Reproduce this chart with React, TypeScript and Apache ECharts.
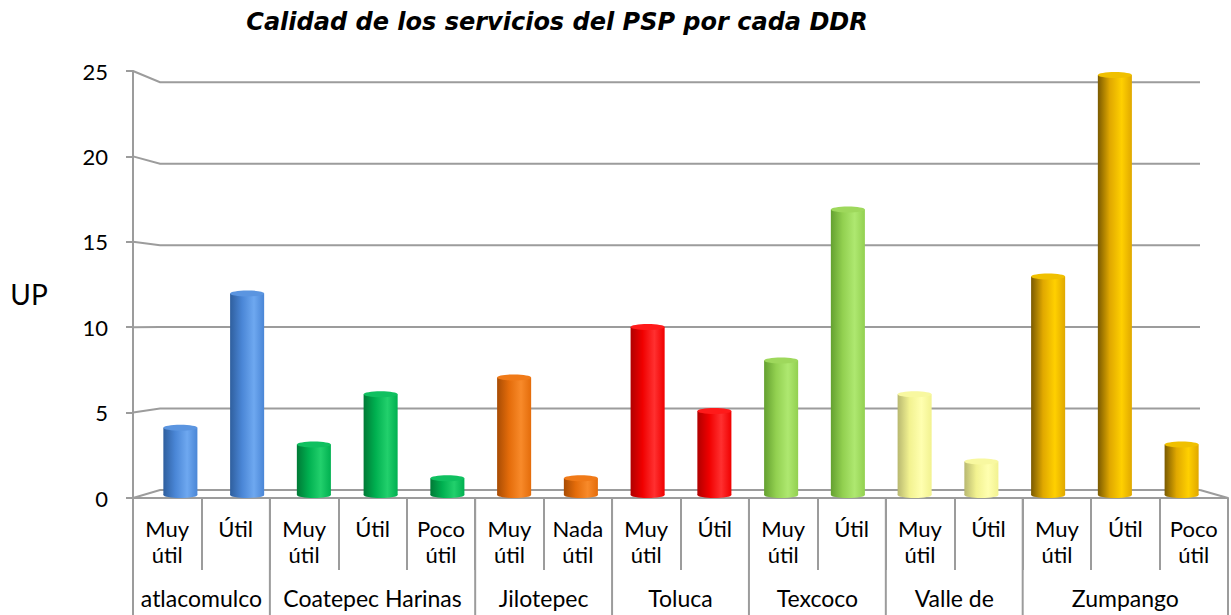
import React, { useEffect, useRef } from "react";
import * as echarts from "echarts";

const title = "Calidad de los servicios del PSP por cada DDR";
const yAxisName = "UP";
const groups = ["atlacomulco", "Coatepec Harinas", "Jilotepec", "Toluca", "Texcoco", "Valle de", "Zumpango"];
const groupSizes = [2, 3, 2, 2, 2, 2, 3];
const subcats = [
  "Muy\nútil", "Útil",
  "Muy\nútil", "Útil", "Poco\nútil",
  "Muy\nútil", "Nada\nútil",
  "Muy\nútil", "Útil",
  "Muy\nútil", "Útil",
  "Muy\nútil", "Útil",
  "Muy\nútil", "Útil", "Poco\nútil",
];
const values = [4, 12, 3, 6, 1, 7, 1, 10, 5, 8, 17, 6, 2, 13, 25, 3];
const yTicks = [0, 5, 10, 15, 20, 25];

// [dark, mid, light, top]
const groupColors = [
  ["#2f5f9e", "#4a86d6", "#6ea8f0", "#5b95e0"],
  ["#007a36", "#00b050", "#22d06c", "#10c060"],
  ["#a84c04", "#e46c0a", "#f88a2a", "#f07a18"],
  ["#b00000", "#f00000", "#ff3030", "#ff1a1a"],
  ["#64a030", "#92d050", "#aee870", "#9ed85c"],
  ["#b8b870", "#f2f290", "#ffffb0", "#f8f8a0"],
  ["#7a5a00", "#e0a800", "#ffd000", "#f0c000"],
];

const FONT = "Lato, 'Open Sans', sans-serif";
const TITLE_FONT = "'DejaVu Sans', sans-serif";
const GRID_COLOR = "#9c9c9c";

export default function App() {
  const ref = useRef<HTMLDivElement>(null);
  useEffect(() => {
    const chart = echarts.init(ref.current!, null, { renderer: "svg" });
    const groupOf: number[] = [];
    const groupRanges: number[][] = [];
    let idx = 0;
    groupSizes.forEach((n, g) => {
      groupRanges.push([idx, idx + n - 1, g]);
      for (let k = 0; k < n; k++) groupOf.push(g);
      idx += n;
    });

    const option: any = {
      animation: false,
      backgroundColor: "#ffffff",
      graphic: [
        {
          type: "text",
          x: 557,
          y: 22,
          style: {
            text: title,
            fontSize: 24,
            fontWeight: "bold",
            fontStyle: "italic",
            fontFamily: TITLE_FONT,
            fill: "#000",
            textAlign: "center",
            textVerticalAlign: "middle",
          },
        },
        {
          type: "text",
          x: 29,
          y: 294,
          style: {
            text: yAxisName,
            fontSize: 28,
            fontFamily: FONT,
            fill: "#000",
            textAlign: "center",
            textVerticalAlign: "middle",
          },
        },
      ],
      grid: [
        { left: 133, right: 3, top: 71, bottom: 117 },
        { left: 147, right: 16, top: 75, bottom: 120 },
      ],
      xAxis: [
        {
          gridIndex: 0,
          type: "category",
          data: subcats,
          boundaryGap: true,
          axisLine: { show: true, lineStyle: { color: GRID_COLOR, width: 2 } },
          axisTick: { show: true, interval: 0, length: 72, lineStyle: { color: GRID_COLOR, width: 2 } },
          axisLabel: {
            interval: 0,
            fontSize: 22,
            lineHeight: 26,
            color: "#000",
            fontFamily: FONT,
            margin: 17,
            verticalAlign: "top",
          },
        },
        {
          gridIndex: 1,
          type: "category",
          data: subcats,
          show: false,
        },
      ],
      yAxis: [
        {
          gridIndex: 0,
          type: "value",
          min: 0,
          max: 25,
          interval: 5,
          axisLine: { show: true, lineStyle: { color: GRID_COLOR, width: 2 } },
          axisTick: { show: true, length: 7, lineStyle: { color: GRID_COLOR, width: 2 } },
          axisLabel: { fontSize: 22, color: "#000", fontFamily: FONT, margin: 25 },
          splitLine: { show: false },
        },
        { gridIndex: 1, type: "value", min: 0, max: 25, show: false },
      ],
      series: [
        {
          type: "custom",
          xAxisIndex: 0,
          yAxisIndex: 0,
          data: yTicks.map((v) => [0, v]),
          z: 1,
          renderItem: (params: any, api: any) => {
            const cs = params.coordSys;
            const v = api.value(1);
            const y = api.coord([0, v])[1];
            const y0 = api.coord([0, 0])[1];
            const yb = y0 - 8 - (y0 - y) * 0.955;
            const xl = cs.x;
            const xr = cs.x + cs.width;
            const children: any[] = [
              {
                type: "polyline",
                shape: { points: [[xl, y], [xl + 27, yb], [xr - 28, yb]] },
                style: { stroke: GRID_COLOR, lineWidth: 2, fill: null },
              },
            ];
            if (v === 0) {
              children.push({
                type: "line",
                shape: { x1: xr - 28, y1: yb, x2: xr, y2: y0 },
                style: { stroke: GRID_COLOR, lineWidth: 2 },
              });
            }
            return { type: "group", children };
          },
        },
        {
          type: "custom",
          xAxisIndex: 0,
          yAxisIndex: 0,
          data: groupRanges,
          z: 2,
          renderItem: (params: any, api: any) => {
            const s = api.value(0);
            const e = api.value(1);
            const g = api.value(2);
            const band = api.size([1, 0])[0];
            const y0 = api.coord([0, 0])[1];
            const xs = api.coord([s, 0])[0] - band / 2;
            const xe = api.coord([e, 0])[0] + band / 2;
            const children: any[] = [
              {
                type: "line",
                shape: { x1: xs, y1: y0, x2: xs, y2: 615 },
                style: { stroke: GRID_COLOR, lineWidth: 2 },
              },
              {
                type: "text",
                x: (xs + xe) / 2,
                y: 598,
                style: {
                  text: groups[g],
                  fontSize: 23,
                  fontFamily: FONT,
                  fill: "#000",
                  textAlign: "center",
                  textVerticalAlign: "middle",
                },
              },
            ];
            if (g === groups.length - 1) {
              children.push({
                type: "line",
                shape: { x1: xe, y1: y0, x2: xe, y2: 615 },
                style: { stroke: GRID_COLOR, lineWidth: 2 },
              });
            }
            return { type: "group", children };
          },
        },
        {
          type: "custom",
          xAxisIndex: 1,
          yAxisIndex: 1,
          data: values.map((v, i) => [i, v, groupOf[i]]),
          z: 3,
          renderItem: (params: any, api: any) => {
            const i = api.value(0);
            const v = api.value(1);
            const g = api.value(2);
            const c = groupColors[g];
            const top = api.coord([i, v]);
            const base = api.coord([i, 0]);
            const w = api.size([1, 0])[0] * 0.51;
            const ry = 3;
            const grad = new echarts.graphic.LinearGradient(0, 0, 1, 0, [
              { offset: 0, color: c[0] },
              { offset: 0.35, color: c[1] },
              { offset: 0.7, color: c[2] },
              { offset: 1, color: c[1] },
            ]);
            return {
              type: "group",
              children: [
                {
                  type: "ellipse",
                  shape: { cx: top[0], cy: base[1], rx: w / 2, ry },
                  style: { fill: grad },
                },
                {
                  type: "rect",
                  shape: { x: top[0] - w / 2, y: top[1], width: w, height: base[1] - top[1] },
                  style: { fill: grad },
                },
                {
                  type: "ellipse",
                  shape: { cx: top[0], cy: top[1], rx: w / 2, ry },
                  style: { fill: c[3] },
                },
              ],
            };
          },
        },
      ],
    };
    chart.setOption(option);
    return () => chart.dispose();
  }, []);
  return (
    <div
      ref={ref}
      style={{ position: "fixed", left: 0, top: 0, width: 1231, height: 615 }}
    />
  );
}
